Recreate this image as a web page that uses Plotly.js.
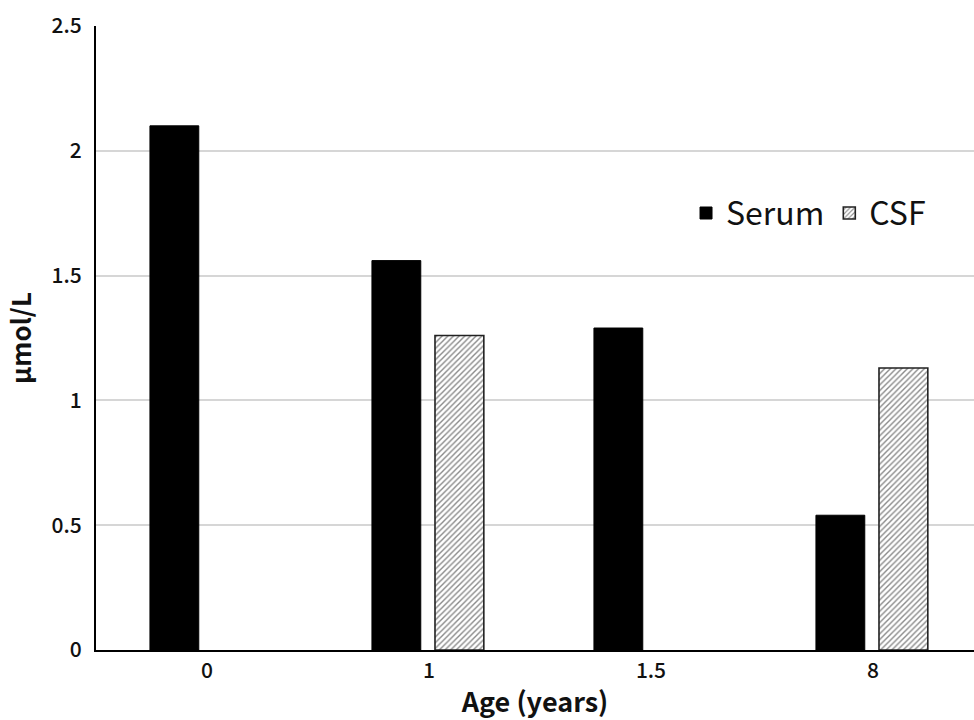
<!DOCTYPE html>
<html>
<head>
<meta charset="utf-8">
<script src="https://cdn.plot.ly/plotly-3.0.1.min.js"></script>
<style>
  html, body { margin: 0; padding: 0; background: #fff; }
  #chart { width: 974px; height: 720px; }
</style>
</head>
<body>
<div id="chart"></div>
<script>
// Age groups (years) and measured concentrations (µmol/L)
const ageLabels = ["0", "1", "1.5", "8"];
const serumValues = [2.10, 1.56, 1.29, 0.54];
const csfValues = [null, 1.26, null, 1.13];
const yTickValues = [0, 0.5, 1, 1.5, 2, 2.5];
const yTickLabels = ["0", "0.5", "1", "1.5", "2", "2.5"];

const jpFont = "Noto Sans CJK JP, Noto Sans, sans-serif";

const serum = {
  type: "bar",
  name: "Serum",
  x: ageLabels,
  y: serumValues,
  width: 0.22,
  offset: -0.257,
  marker: { color: "#000000", line: { color: "#000000", width: 1 } },
  hoverinfo: "x+y+name"
};

const csf = {
  type: "bar",
  name: "CSF",
  x: ageLabels,
  y: csfValues,
  width: 0.22,
  offset: 0.027,
  marker: {
    color: "#ffffff",
    line: { color: "#222222", width: 1.6 },
    pattern: { shape: "/", fgcolor: "#8a8a8a", bgcolor: "#ffffff", size: 4, solidity: 0.35 }
  },
  hoverinfo: "x+y+name"
};

const layout = {
  width: 974,
  height: 720,
  margin: { l: 96, r: 0, t: 26, b: 70 },
  paper_bgcolor: "#ffffff",
  plot_bgcolor: "#ffffff",
  showlegend: true,
  legend: {
    orientation: "h",
    x: 0.672, y: 0.70,
    xanchor: "left", yanchor: "middle",
    font: { family: jpFont, size: 32, color: "#111" },
    bgcolor: "rgba(0,0,0,0)",
    itemwidth: 30,
    traceorder: "normal"
  },
  xaxis: {
    type: "category",
    range: [-0.5, 3.455],
    showgrid: false,
    showline: true,
    linecolor: "#000000",
    linewidth: 2,
    ticks: "",
    ticklabelstandoff: 1,
    tickfont: { family: jpFont, size: 21, color: "#111", weight: 500 },
    title: {
      text: "Age (years)",
      font: { family: jpFont, size: 27, color: "#111", weight: "bold" },
      standoff: 14
    },
    fixedrange: true
  },
  yaxis: {
    range: [0, 2.5],
    tickvals: yTickValues,
    ticktext: yTickLabels,
    showgrid: true,
    gridcolor: "#d6d6d6",
    gridwidth: 2,
    zeroline: false,
    showline: true,
    linecolor: "#000000",
    linewidth: 2,
    ticks: "",
    ticklabelstandoff: 8,
    tickfont: { family: jpFont, size: 21, color: "#111", weight: 500 },
    title: {
      text: "µmol/L",
      font: { family: jpFont, size: 26, color: "#111", weight: "bold" },
      standoff: 12
    },
    fixedrange: true
  },
  font: { family: jpFont }
};

Plotly.newPlot("chart", [serum, csf], layout, { displayModeBar: false, staticPlot: true });
</script>
</body>
</html>
